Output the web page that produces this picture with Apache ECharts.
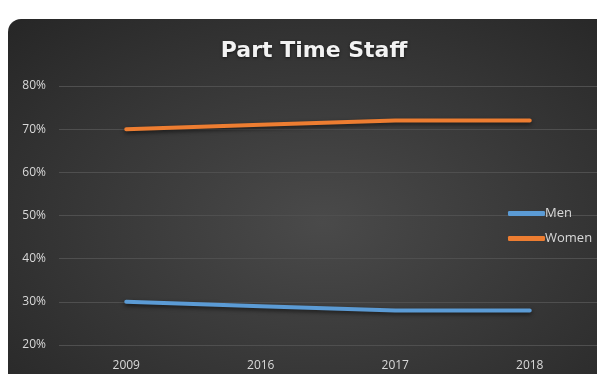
<!DOCTYPE html>
<html><head><meta charset="utf-8">
<script src="https://cdn.jsdelivr.net/npm/echarts@6/dist/echarts.min.js"></script>
<style>
html,body{margin:0;padding:0;background:#fff;width:597px;height:374px;overflow:hidden;}
#box{position:absolute;left:8px;top:19px;width:604px;height:370px;border-radius:13px;
background:radial-gradient(ellipse at 52% 55%, #4a4a4a 0%, #3a3a3a 45%, #262626 100%);}
#c{position:absolute;left:0;top:0;width:597px;height:374px;}
</style></head>
<body><div id="box"></div><div id="c"></div>
<script>
const categories = ['2009','2016','2017','2018'];
const men = [30, 29, 28, 28];
const women = [70, 71, 72, 72];
const yTicks = [20, 30, 40, 50, 60, 70, 80];

const chart = echarts.init(document.getElementById('c'), null, {renderer:'canvas'});
const font = 'Open Sans, sans-serif';
chart.setOption({
  backgroundColor: 'transparent',
  animation: false,
  title: {
    text: 'Part Time Staff', left: 309, top: 35, textAlign: 'center',
    textStyle: {color:'#f2f2f2', fontSize: 22, fontWeight:'bold', fontFamily: 'DejaVu Sans, sans-serif',
      textShadowColor:'rgba(0,0,0,0.6)', textShadowBlur:3, textShadowOffsetY:1}
  },
  legend: {
    orient: 'vertical', left: 503, top: 202, itemWidth: 37, itemHeight: 5, itemGap: 12,
    icon: 'roundRect',
    textStyle: {color:'#d9d9d9', fontSize: 13, fontFamily: font, padding:[0,0,0,-5]},
    data: ['Men','Women']
  },
  grid: {left: 59, right: -4, top: 86, bottom: 29, containLabel: false},
  xAxis: {
    type: 'category', data: categories, boundaryGap: true,
    axisLine: {show:false}, axisTick: {show:false},
    axisLabel: {color:'#d9d9d9', fontSize: 12, fontFamily: font, margin: 15}
  },
  yAxis: {
    type: 'value', min: yTicks[0], max: yTicks[yTicks.length-1], interval: 10,
    axisLine:{show:false}, axisTick:{show:false},
    axisLabel: {color:'#d9d9d9', fontSize: 12, fontFamily: font, formatter: '{value}%', margin: 13},
    splitLine: {lineStyle:{color:'#4f4f4f', width:1}}
  },
  series: [
    {name:'Men', type:'line', data: men, symbol:'none', smooth:false,
      lineStyle:{color:'#5b9bd5', width:4, cap:'round', shadowColor:'rgba(0,0,0,0.6)', shadowBlur:4, shadowOffsetY:2},
      itemStyle:{color:'#5b9bd5'}},
    {name:'Women', type:'line', data: women, symbol:'none', smooth:false,
      lineStyle:{color:'#ed7d31', width:4, cap:'round', shadowColor:'rgba(0,0,0,0.6)', shadowBlur:4, shadowOffsetY:2},
      itemStyle:{color:'#ed7d31'}}
  ]
});
</script></body></html>
